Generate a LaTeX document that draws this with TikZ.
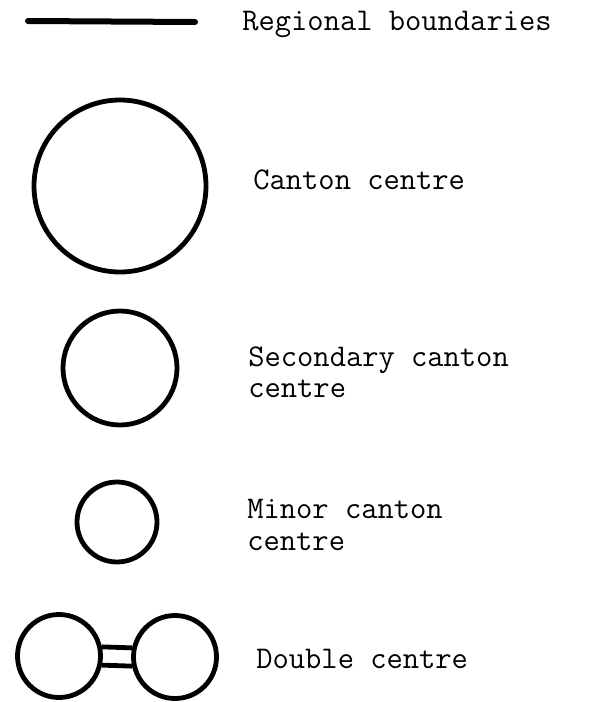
\documentclass[tikz,border=0pt]{standalone}
\usepackage{tikz}

\begin{document}
\begin{tikzpicture}[x=0.5pt, y=-0.5pt,
    ring/.style={draw, circle, line width=2.4pt, inner sep=0pt},
    entry/.style={anchor=west, align=left, inner sep=0pt,
        font=\ttfamily\fontsize{15.8}{15.6}\selectfont}]
    \useasboundingbox (0,0) rectangle (597,702);

    % regional boundary sample
    \coordinate (bstart) at (28,21);
    \coordinate (bend) at (195,22);
    \draw [line width=3pt, line cap=round] (bstart) -- (bend);
    \node [entry] (regional) at (242,24) {Regional boundaries};

    % centres
    \node [ring, minimum size=86pt] (canton) at (120,186) {};
    \node [entry] (cantonlabel) at (253,180) {Canton centre};

    \node [ring, minimum size=57pt] (secondary) at (120,368) {};
    \node [entry] (secondarylabel) at (248,372) {Secondary canton\\centre};

    \node [ring, minimum size=40pt] (minor) at (117,522) {};
    \node [entry] (minorlabel) at (247,525) {Minor canton\\centre};

    % double centre
    \node [ring, minimum size=41.5pt] (left) at (59,656) {};
    \node [ring, minimum size=41.5pt] (right) at (175,657) {};
    \draw [line width=2.4pt] (left.12) -- (right.168);
    \draw [line width=2.4pt] (left.-12) -- (right.-168);
    \node [entry] (doublelabel) at (256,659) {Double centre};
\end{tikzpicture}
\end{document}
